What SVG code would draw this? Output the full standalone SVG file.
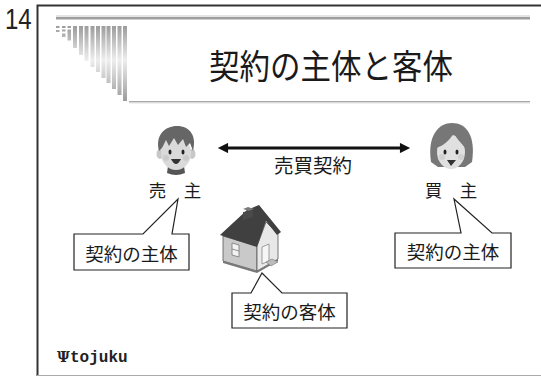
<svg xmlns="http://www.w3.org/2000/svg" width="541" height="376" viewBox="0 0 541 376">
  <style>
    .jp { font-family: "Noto Sans CJK JP", "Noto Sans", sans-serif; fill: #1a1a1a; text-anchor: middle; }
    .callout { fill: #ffffff; stroke: #222; stroke-width: 1.2; stroke-linejoin: miter; }
    .bar { fill: url(#barGrad); }
    .frame { stroke: #333; stroke-width: 2; fill: none; }
  </style>
  <defs>
    <linearGradient id="barGrad" gradientUnits="userSpaceOnUse" x1="0" y1="26" x2="0" y2="102">
      <stop offset="0" stop-color="#9c9c9c"/>
      <stop offset="0.45" stop-color="#eeeeee"/>
      <stop offset="1" stop-color="#9a9a9a"/>
    </linearGradient>
    <marker id="head" viewBox="0 0 10 10" refX="2" refY="5" markerWidth="4" markerHeight="3.4" orient="auto-start-reverse" markerUnits="strokeWidth">
      <path d="M0,0 L10,5 L0,10 Z" fill="#111"/>
    </marker>
  </defs>

  <rect width="541" height="376" fill="#ffffff"/>

  <!-- page number and slide frame -->
  <text transform="translate(5,29) scale(0.8,1)" x="0" y="0" font-family="Liberation Sans, sans-serif" font-size="30" fill="#222">14</text>
  <path class="frame" d="M37.5,376 V5.5 H541"/>
  <line x1="37" y1="375.5" x2="541" y2="375.5" stroke="#aaa" stroke-width="1"/>

  <!-- title header -->
  <g id="header">
    <rect x="56" y="15" width="474" height="2" fill="#e4e4e4"/>
    <rect x="56" y="17" width="474" height="2.5" fill="#9e9e9e"/>
    <rect x="56" y="26" width="3.5" height="2" class="bar"/>
    <rect x="56" y="30" width="3.5" height="2" class="bar"/>
    <rect x="62" y="26" width="3.5" height="2" class="bar"/>
    <rect x="62" y="29.5" width="3.5" height="2" class="bar"/>
    <rect x="62" y="33.5" width="3.5" height="3.5" class="bar"/>
    <rect x="67.5" y="26" width="3.5" height="2" class="bar"/>
    <rect x="67.5" y="29.5" width="3.5" height="11" class="bar"/>
    <rect x="73" y="26" width="4" height="22" class="bar"/>
    <rect x="79" y="26" width="4" height="29" class="bar"/>
    <rect x="84.5" y="26" width="4" height="35" class="bar"/>
    <rect x="90.5" y="26" width="4" height="41" class="bar"/>
    <rect x="96" y="26" width="4" height="46" class="bar"/>
    <rect x="101.5" y="26" width="4" height="52" class="bar"/>
    <rect x="106.5" y="26" width="4" height="57" class="bar"/>
    <rect x="112" y="26" width="4" height="63" class="bar"/>
    <rect x="117.5" y="26" width="4" height="69" class="bar"/>
    <rect x="123" y="26" width="4" height="75" class="bar"/>
    <rect x="129" y="101" width="401" height="1.5" fill="#a8a8a8"/>
    <rect x="129" y="102.5" width="401" height="1" fill="#e2e2e2"/>
    <text class="jp" transform="translate(331,79) scale(1,1.12)" x="0" y="0" font-size="30.5">契約の主体と客体</text>
  </g>

  <!-- contract connector -->
  <g id="connectors">
    <line x1="226" y1="148" x2="402" y2="148" stroke="#111" stroke-width="3" marker-start="url(#head)" marker-end="url(#head)"/>
    <text class="jp" x="313" y="173" font-size="19.5">売買契約</text>
  </g>

  <!-- seller -->
  <g id="seller">
    <ellipse cx="160" cy="154" rx="3.5" ry="5" fill="#c8c8c8"/>
    <ellipse cx="192" cy="154" rx="3.5" ry="5" fill="#c8c8c8"/>
    <path d="M168,166 Q176,171 184,166 L185,173 Q176,177 167,173 Z" fill="#555"/>
    <ellipse cx="176" cy="153" rx="15" ry="17" fill="#dadada"/>
    <circle cx="166" cy="158" r="3" fill="#cbcbcb"/>
    <circle cx="186" cy="158" r="3" fill="#cbcbcb"/>
    <path d="M159,151 C155,135 165,126 177,126 C190,126 197,136 193,151 L190,143 L186,147 L183,139 L178,145 L174,138 L169,146 L166,140 L162,148 Z" fill="#666"/>
    <ellipse cx="170" cy="152" rx="1.5" ry="2.6" fill="#222"/>
    <ellipse cx="183" cy="152" rx="1.5" ry="2.6" fill="#222"/>
    <path d="M171,159 Q176,169 181,159 Z" fill="#333"/>
    <text class="jp" x="175" y="197" font-size="17.5">売　主</text>
    <path class="callout" d="M74,234 H143 L178,199 L172,234 H189 V270 H74 Z"/>
    <text class="jp" x="131.5" y="261" font-size="18.5">契約の主体</text>
  </g>

  <!-- buyer -->
  <g id="buyer">
    <path d="M431,162 C427,135 439,123 452,123 C466,123 476,135 472,162 L465,167 L438,167 Z" fill="#777"/>
    <ellipse cx="451" cy="152" rx="14" ry="17" fill="#e0e0e0"/>
    <circle cx="442" cy="157" r="3" fill="#d0d0d0"/>
    <circle cx="461" cy="157" r="3" fill="#d0d0d0"/>
    <path d="M436,148 C436,131 446,127 453,128 C462,128 469,137 467,150 C461,143 456,138 454,133 C449,141 443,146 436,148 Z" fill="#777"/>
    <ellipse cx="445" cy="152" rx="1.5" ry="2.5" fill="#222"/>
    <ellipse cx="457" cy="152" rx="1.5" ry="2.5" fill="#222"/>
    <path d="M447,160 L456,160 L451,166 Z" fill="#333"/>
    <text class="jp" x="451" y="197" font-size="17.5">買　主</text>
    <path class="callout" d="M395,233 H461 L454,199 L492,233 H511 V268 H395 Z"/>
    <text class="jp" x="453" y="259" font-size="18.5">契約の主体</text>
  </g>

  <!-- house (object of the contract) -->
  <g id="house">
    <path d="M223,236 L257,246 L257,271 L223,261 Z" fill="#c9c9c9" stroke="#555" stroke-width="0.8"/>
    <path d="M257,246 L266,222 L278,234 L278,259 L257,271 Z" fill="#e8e8e8" stroke="#555" stroke-width="0.8"/>
    <path d="M223,261 L257,271 L278,259 L278,261 L257,273 L223,263 Z" fill="#777"/>
    <path d="M232,243 L239,245 L239,257 L232,255 Z" fill="#f2f2f2" stroke="#777" stroke-width="0.8"/>
    <line x1="232" y1="249" x2="239" y2="251" stroke="#777" stroke-width="0.8"/>
    <path d="M262,247 L269,244 L269,261 L262,264 Z" fill="#f6f6f6" stroke="#888" stroke-width="0.8"/>
    <path d="M266,262 L272,259 L278,262 L271,266 Z" fill="#bbb" stroke="#777" stroke-width="0.6"/>
    <path d="M220,235 L257,247 L266,221 L277,235 L281,232 L259,205 L247,210 Z" fill="#404040"/>
    <path d="M243,212 L243,220 L253,217 L253,211 Z" fill="#4a4a4a"/>
    <path d="M243,209 L248,207 L254,209 L249,211 Z" fill="#7a7a7a"/>
    <path class="callout" d="M232,293 H251 L262,273 L282,293 H347 V328 H232 Z"/>
    <text class="jp" x="289.5" y="319" font-size="18.5">契約の客体</text>
  </g>

  <!-- logo -->
  <g id="logo">
    <text x="57" y="362" font-family="DejaVu Serif, serif" font-weight="bold" font-size="14" fill="#222">Ψ</text>
    <text x="70" y="362" font-family="Liberation Mono, monospace" font-weight="bold" font-size="16" fill="#222">tojuku</text>
  </g>
</svg>
